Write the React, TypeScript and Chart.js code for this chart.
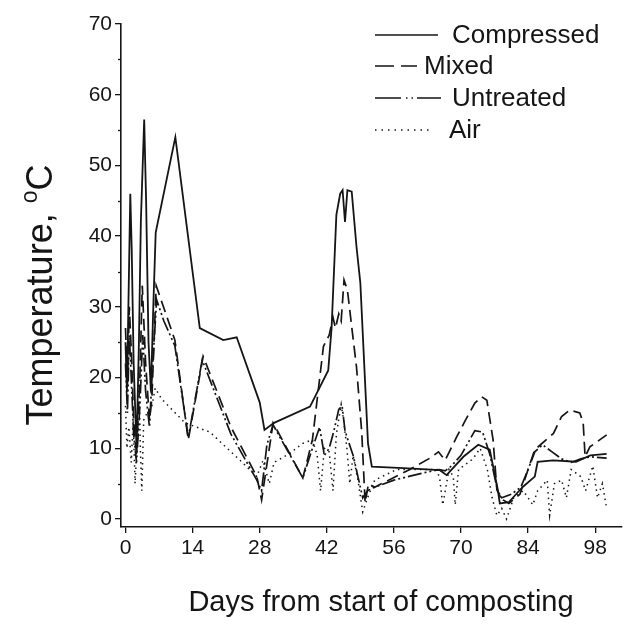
import React, { useEffect, useRef } from 'react';
import { Chart, registerables } from 'chart.js';
Chart.register(...registerables);

const xTickValues = [0, 14, 28, 42, 56, 70, 84, 98];
const yTickValues = [0, 10, 20, 30, 40, 50, 60, 70];
const yMinorTickValues = [5, 15, 25, 35, 45, 55, 65];
const seriesNames = ['Compressed', 'Mixed', 'Untreated', 'Air'];
const xTitle = 'Days from start of composting';
const yTitleMain = 'Temperature, ';
const yTitleSup = 'o';
const yTitleUnit = 'C';

const compressedDays = [0, 0.3, 0.6, 1.0, 1.3, 1.7, 2.3, 2.8, 3.2, 3.9, 4.3, 4.8, 5.3, 5.8, 6.3, 10.4, 15.5, 20.4, 23.2, 28.0, 29.0, 31.0, 38.5, 42.3, 43.0, 44.0, 44.8, 45.3, 45.8, 46.3, 47.2, 48.2, 49.0, 50.6, 51.4, 58.0, 65.6, 67.0, 70.5, 73.6, 76.0, 77.7, 78.1, 80.0, 82.3, 83.0, 85.4, 86.0, 89.2, 94.0, 97.0, 100.4];
const compressedTemps = [25, 18, 30, 46, 38, 22, 10, 25, 42, 56.5, 45, 25, 18, 30, 40.5, 54, 27, 25.3, 25.7, 16.5, 12.6, 13.6, 15.9, 21, 27, 43, 46, 46.5, 42, 46.5, 46.3, 38.5, 33.4, 10.7, 7.4, 7.2, 6.9, 6.2, 8.8, 10.5, 9.8, 4.1, 2.2, 2.4, 4.1, 4.6, 6.0, 8.1, 8.3, 8.1, 9.0, 9.2];

const mixedDays = [0, 0.4, 0.8, 1.2, 1.7, 2.3, 3.0, 3.5, 4.2, 5.0, 5.5, 6.4, 10.3, 13.1, 16.2, 22.0, 27.4, 28.4, 30.8, 37.0, 39.0, 41.3, 42.5, 43.3, 43.8, 44.5, 45.0, 45.6, 46.3, 47.2, 48.2, 49.3, 50.0, 50.7, 52.0, 59.0, 63.5, 65.3, 66.7, 69.1, 70.8, 72.9, 74.3, 75.4, 76.7, 77.5, 78.8, 80.0, 82.3, 84.0, 85.4, 89.3, 91.0, 92.7, 94.8, 95.5, 95.9, 96.9, 100.4];
const mixedTemps = [27, 19, 30, 24, 14, 9, 20, 33, 22, 14, 17, 33, 25.3, 11.2, 23, 13, 6, 2.7, 13.6, 5.8, 11.2, 24.4, 26, 28.5, 27, 29, 28, 33.8, 32.4, 27.2, 21.5, 12.2, 2.3, 5, 4.5, 6.9, 8.6, 9.5, 8.3, 11.6, 13.8, 16.4, 17.3, 16.8, 11.2, 4.1, 2.7, 2.2, 3.5, 7, 9.8, 12.1, 14.5, 15.4, 15, 13.6, 8.8, 10.2, 11.9];

const untreatedDays = [0, 0.4, 0.8, 1.2, 1.7, 2.3, 3.0, 3.6, 4.2, 5.0, 5.6, 6.5, 8.0, 10.3, 13.1, 16.0, 22.0, 27.4, 28.4, 29.5, 30.8, 37.0, 39.0, 40.5, 41.5, 42.5, 43.5, 44.5, 45.2, 45.8, 46.5, 47.5, 48.5, 49.5, 50.5, 52.0, 56.0, 62.0, 65.5, 66.7, 68.0, 70.0, 72.9, 74.5, 76.0, 77.0, 77.8, 78.5, 80.5, 82.5, 84.0, 85.4, 87.0, 89.0, 91.0, 93.0, 95.0, 97.0, 100.4];
const untreatedTemps = [22, 15, 26, 20, 12, 8, 16, 26, 18, 13, 21, 31, 28, 24.5, 11.5, 22.5, 12, 5.5, 4, 10.5, 13.3, 5.8, 10, 13, 9, 10, 12.5, 15.5, 16, 12.5, 11, 9, 6, 3, 4, 4.5, 5.5, 6.5, 7, 6.8, 7.5, 9, 12.5, 12.3, 9.2, 6, 3.5, 3, 3.5, 4.5, 7, 9.5, 10.5, 9.5, 8.5, 8, 8.5, 8.8, 8.6];

const airDays = [0, 0.3, 0.7, 1.2, 1.6, 2.0, 2.5, 2.8, 3.1, 3.4, 3.8, 4.5, 5.5, 6.2, 7.5, 12.4, 17.6, 23.9, 27.4, 28.7, 30.0, 31.0, 34.3, 37.0, 39.0, 40.0, 40.7, 41.5, 42.5, 43.3, 44.0, 45.0, 45.5, 46.2, 46.8, 47.5, 48.5, 49.5, 50.5, 52.0, 56.6, 62.0, 65.0, 65.6, 66.2, 67.5, 68.4, 68.8, 69.5, 72.5, 74.0, 75.5, 76.5, 77.5, 78.5, 79.5, 81.0, 83.0, 85.0, 86.0, 88.0, 88.5, 89.5, 91.0, 92.0, 93.0, 95.0, 96.0, 97.5, 98.5, 99.5, 100.4];
const airTemps = [16, 10, 13, 8, 14, 5, 12, 20, 10, 4, 14, 15, 16, 18.5, 17, 13.6, 12.3, 8.3, 6, 8.3, 5, 8, 9.3, 10.7, 11.2, 9, 4, 10, 9.5, 4, 12, 16.2, 14, 10, 5, 9, 5.5, 1, 3, 5.5, 7, 7, 7, 5.5, 2, 7, 6, 2, 7, 8.5, 10, 7, 3, 0.5, 1.5, 0, 3, 4, 2, 4, 5.5, 0.5, 5, 5.5, 3, 7, 6, 4, 7.5, 3, 5, 1.5];

const INK = '#151515';
const FONT = '"Liberation Sans", Arial, sans-serif';

const toPoints = (days: number[], temps: number[]) => days.map((d, i) => ({ x: d, y: temps[i] }));

const legendRows = [
  { dash: [] as number[], width: 1.7, x0: 375, x1: 438, tx: 452, y: 35 },
  { dash: [19, 7, 16, 100], width: 1.7, x0: 375, x1: 417, tx: 424, y: 66 },
  { dash: [26, 5, 1.5, 4, 1.5, 4, 24, 100], width: 1.7, x0: 375, x1: 443, tx: 452, y: 98 },
  { dash: [1.5, 5], width: 1.5, x0: 375, x1: 433, tx: 449, y: 130 },
];

const decorPlugin = {
  id: 'decor',
  afterDraw(chart: any) {
    const ctx = chart.ctx as CanvasRenderingContext2D;
    const ys = chart.scales.y;
    const area = chart.chartArea;
    ctx.save();
    ctx.strokeStyle = INK;
    ctx.lineWidth = 1.3;
    yMinorTickValues.forEach((v) => {
      const py = Math.round(ys.getPixelForValue(v)) + 0.5;
      ctx.beginPath();
      ctx.moveTo(area.left - 3, py);
      ctx.lineTo(area.left, py);
      ctx.stroke();
    });
    legendRows.forEach((row, i) => {
      ctx.beginPath();
      ctx.setLineDash(row.dash);
      ctx.lineWidth = row.width;
      ctx.moveTo(row.x0, row.y);
      ctx.lineTo(row.x1, row.y);
      ctx.stroke();
      ctx.setLineDash([]);
      ctx.fillStyle = INK;
      ctx.font = `26px ${FONT}`;
      ctx.textBaseline = 'middle';
      ctx.textAlign = 'left';
      ctx.fillText(seriesNames[i], row.tx, row.y + 1);
    });
    // x title
    ctx.font = `29px ${FONT}`;
    ctx.textAlign = 'center';
    ctx.textBaseline = 'middle';
    ctx.fillStyle = INK;
    ctx.fillText(xTitle, 381, 603);
    // y title with superscript
    ctx.textAlign = 'left';
    ctx.translate(40, 295);
    ctx.rotate(-Math.PI / 2);
    ctx.font = `36px ${FONT}`;
    const w1 = ctx.measureText(yTitleMain).width;
    ctx.font = `23px ${FONT}`;
    const w2 = ctx.measureText(yTitleSup).width;
    ctx.font = `36px ${FONT}`;
    const w3 = ctx.measureText(yTitleUnit).width;
    const total = w1 + w2 + w3;
    let cx = -total / 2;
    ctx.textBaseline = 'alphabetic';
    ctx.fillText(yTitleMain, cx, 12);
    cx += w1;
    ctx.font = `23px ${FONT}`;
    ctx.fillText(yTitleSup, cx, -3);
    cx += w2;
    ctx.font = `36px ${FONT}`;
    ctx.fillText(yTitleUnit, cx, 12);
    ctx.restore();
  },
};

export default function App() {
  const ref = useRef<HTMLCanvasElement>(null);
  useEffect(() => {
    const lineBase = { pointRadius: 0, tension: 0, borderColor: INK, fill: false };
    const chart = new Chart(ref.current!, {
      type: 'line',
      data: {
        datasets: [
          { ...lineBase, label: seriesNames[0], data: toPoints(compressedDays, compressedTemps), borderWidth: 1.8 },
          { ...lineBase, label: seriesNames[1], data: toPoints(mixedDays, mixedTemps), borderWidth: 1.7, borderDash: [12, 6] },
          { ...lineBase, label: seriesNames[2], data: toPoints(untreatedDays, untreatedTemps), borderWidth: 1.7, borderDash: [14, 3, 2, 3, 2, 3] },
          { ...lineBase, label: seriesNames[3], data: toPoints(airDays, airTemps), borderWidth: 1.5, borderDash: [1.5, 4] },
        ],
      },
      options: {
        responsive: false,
        animation: false,
        events: [],
        layout: { padding: { left: 0, right: 2, top: 24, bottom: 0 } },
        plugins: { legend: { display: false }, tooltip: { enabled: false }, title: { display: false } },
        scales: {
          x: {
            type: 'linear',
            min: -0.94,
            max: 103.6,
            afterBuildTicks: (s: any) => { s.ticks = xTickValues.map((v) => ({ value: v })); },
            afterFit: (s: any) => { s.height = 100; },
            grid: { display: true, drawOnChartArea: false, drawTicks: true, tickLength: 6, color: INK, lineWidth: 1.3 },
            border: { display: true, color: INK, width: 1.6 },
            ticks: { color: INK, font: { size: 21, family: FONT }, padding: 3, maxRotation: 0, autoSkip: false },
            title: { display: false },
          },
          y: {
            type: 'linear',
            min: -1.13,
            max: 70,
            afterBuildTicks: (s: any) => { s.ticks = yTickValues.map((v) => ({ value: v })); },
            afterFit: (s: any) => { s.width = 121; },
            grid: { display: true, drawOnChartArea: false, drawTicks: true, tickLength: 6, color: INK, lineWidth: 1.3 },
            border: { display: true, color: INK, width: 1.6 },
            ticks: { color: INK, font: { size: 21, family: FONT }, padding: 3 },
          },
        },
      },
      plugins: [decorPlugin],
    } as any);
    return () => chart.destroy();
  }, []);
  return (
    <div style={{ position: 'fixed', left: 0, top: 0, width: 624, height: 627, background: '#fff' }}>
      <canvas ref={ref} width={624} height={627} style={{ display: 'block', width: 624, height: 627 }} />
    </div>
  );
}
